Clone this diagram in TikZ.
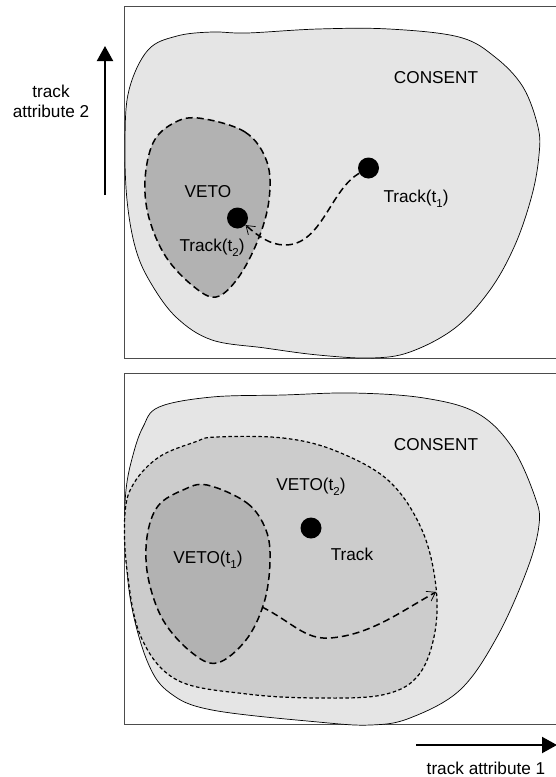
\documentclass[tikz,border=0pt]{standalone}
\usepackage{fontspec}
\setmainfont{Liberation Sans}
\usetikzlibrary{arrows.meta}
\definecolor{consentfill}{gray}{0.90}
\definecolor{vetofill}{gray}{0.70}
\definecolor{vetotwofill}{gray}{0.80}
% lowered subscript, as used for the time indices
\newcommand{\tsub}[1]{\raisebox{-0.32em}{\fontsize{11.5}{12}\selectfont #1}}
\tikzset{
  panel/.style={draw=black!70, line width=0.9pt},
  consent/.style={draw=black, fill=consentfill, line width=0.7pt},
  veto/.style={draw=black, fill=vetofill, line width=1.5pt, dash pattern=on 7pt off 4pt},
  vetotwo/.style={draw=black, fill=vetotwofill, line width=1.2pt, dash pattern=on 3.5pt off 2.5pt},
  dot/.style={circle, fill=black, inner sep=0pt, minimum size=21pt},
  lbl/.style={font=\fontsize{17.2}{20}\selectfont, inner sep=1pt},
  move/.style={line width=1.5pt, dash pattern=on 7pt off 4pt,
    -{Straight Barb[length=8pt, width=11pt, line width=0.7pt]}},
  axis/.style={line width=2pt, -{Triangle[length=15pt, width=16pt]}}
}
\begin{document}
\begin{tikzpicture}[x=1pt, y=-1pt]
\useasboundingbox (0,0) rectangle (555,777);

% ---------- upper panel: track moves from consent into veto ----------
\draw[panel] (124.5,6.5) rectangle (570,358.5);
\path[consent] plot[smooth cycle, tension=0.6] coordinates {
  (148,50) (177,36) (212,32) (247,33) (318,29) (389,29) (459,37) (495,57)
  (523,87) (538,127) (539,155) (532,195) (515,245) (490,290) (455,328)
  (410,352) (371,358) (318,355) (265,348) (212,340) (177,318) (152,285)
  (136,250) (127,200) (125,140) (129,90)};
\path[veto] plot[smooth cycle, tension=0.6] coordinates {
  (198,118) (245,132) (267,162) (269,200) (258,240) (238,278) (216,297)
  (193,286) (166,257) (149,218) (145,180) (153,143) (172,124)};

\node[lbl] (consentA) at (436,78) {CONSENT};
\node[lbl] (vetoA) at (208,192) {VETO};
\node[dot] (tone) at (368.5,168) {};
\node[dot] (ttwo) at (237.5,218) {};
\node[lbl] (tonelbl) at (416,199) {Track(t\tsub{1})};
\node[lbl] (ttwolbl) at (212,248) {Track(t\tsub{2})};

\draw[move] (tone) .. controls (330,190) and (322,245) .. (285,245)
  .. controls (270,245) and (258,236) .. (ttwo);

% ---------- lower panel: veto region grows over the track ----------
\draw[panel] (124.5,373) rectangle (570,724.5);
\path[consent] plot[smooth cycle, tension=0.6] coordinates {
  (159,407) (212,397) (283,395) (353,393) (424,398) (477,413) (512,447)
  (535,497) (539,525) (527,570) (497,637) (460,690) (410,718) (371,725)
  (318,722) (212,710) (170,693) (148,663) (131,603) (125,537) (126,490)
  (133,455) (143,427)};
\path[vetotwo] plot[smooth cycle, tension=0.6] coordinates {
  (216,437) (283,438) (336,451) (389,481) (422,530) (436,587) (434,637)
  (417,677) (382,695) (318,698) (247,694) (177,680) (141,637) (127,570)
  (125,513) (134,483) (159,457) (195,442)};
\path[veto] plot[smooth cycle, tension=0.6] coordinates {
  (207,485) (247,503) (266,530) (270,562) (264,603) (246,640) (217,663)
  (191,652) (163,620) (148,577) (147,537) (158,506) (183,490)};

\node[lbl] (consentB) at (436,445) {CONSENT};
\node[lbl] (vetotwolbl) at (311,487) {VETO(t\tsub{2})};
\node[lbl] (vetoonelbl) at (208,560) {VETO(t\tsub{1})};
\node[dot] (track) at (311,528) {};
\node[lbl] (tracklbl) at (352,554) {Track};

\coordinate (vetoexit) at (262,607);
\coordinate (vetoedge) at (436,592);
\draw[move] (vetoexit) .. controls (292,622) and (305,640) .. (330,638)
  .. controls (370,635) and (400,612) .. (vetoedge);

% ---------- axes ----------
\coordinate (ybase) at (105,195);
\coordinate (ytip) at (105,46);
\draw[axis] (ybase) -- (ytip);
\node[lbl, align=center] (ylbl) at (51,101) {track\\attribute 2};

\coordinate (xbase) at (416,745);
\coordinate (xtip) at (557,745);
\draw[axis] (xbase) -- (xtip);
\node[lbl] (xlbl) at (486,768) {track attribute 1};
\end{tikzpicture}
\end{document}
